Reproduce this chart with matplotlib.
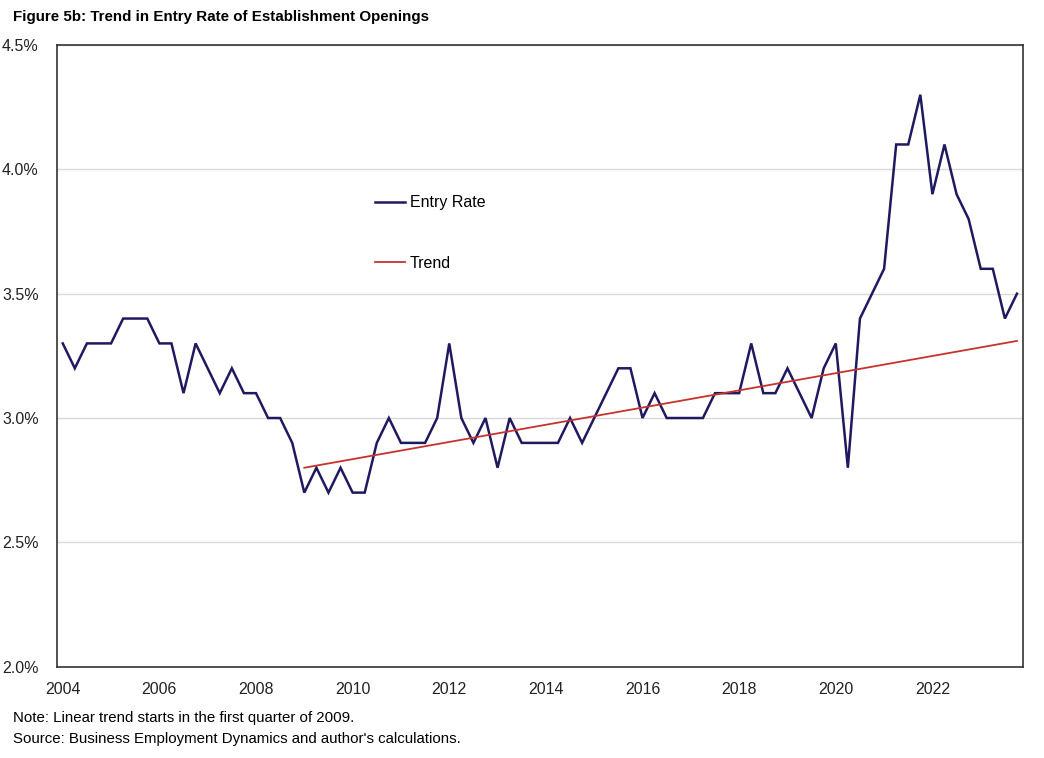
import numpy as np
import matplotlib
matplotlib.use('Agg')
import matplotlib.pyplot as plt
from matplotlib.ticker import FuncFormatter

# ============== data: quarterly entry rate, 2004Q1 - 2023Q4 (%) ==============
entry_rate = [
    3.3, 3.2, 3.3, 3.3,   # 2004
    3.3, 3.4, 3.4, 3.4,   # 2005
    3.3, 3.3, 3.1, 3.3,   # 2006
    3.2, 3.1, 3.2, 3.1,   # 2007
    3.1, 3.0, 3.0, 2.9,   # 2008
    2.7, 2.8, 2.7, 2.8,   # 2009
    2.7, 2.7, 2.9, 3.0,   # 2010
    2.9, 2.9, 2.9, 3.0,   # 2011
    3.3, 3.0, 2.9, 3.0,   # 2012
    2.8, 3.0, 2.9, 2.9,   # 2013
    2.9, 2.9, 3.0, 2.9,   # 2014
    3.0, 3.1, 3.2, 3.2,   # 2015
    3.0, 3.1, 3.0, 3.0,   # 2016
    3.0, 3.0, 3.1, 3.1,   # 2017
    3.1, 3.3, 3.1, 3.1,   # 2018
    3.2, 3.1, 3.0, 3.2,   # 2019
    3.3, 2.8, 3.4, 3.5,   # 2020
    3.6, 4.1, 4.1, 4.3,   # 2021
    3.9, 4.1, 3.9, 3.8,   # 2022
    3.6, 3.6, 3.4, 3.5,   # 2023
]
trend_start_q = 20          # 2009Q1
trend_values = [2.80, 3.31]  # trend at 2009Q1 and 2023Q4
year_labels = ['2004', '2006', '2008', '2010', '2012', '2014',
               '2016', '2018', '2020', '2022']

navy = '#1f1a60'
red = '#c8322c'
font = ['Liberation Sans', 'DejaVu Sans']

fig = plt.figure(figsize=(10.44, 7.58), dpi=100)
ax = fig.add_axes([56.7 / 1044, 1 - 666.7 / 758, 966.3 / 1044, 621.7 / 758])

x = np.arange(len(entry_rate))
ax.plot(x, entry_rate, color=navy, lw=1.8, label='Entry Rate', solid_joinstyle='miter')
ax.plot([trend_start_q, len(entry_rate) - 1], trend_values, color=red, lw=1.3, label='Trend')

ax.set_xlim(-0.5, len(entry_rate) - 0.5)
ax.set_ylim(2.0, 4.5)
ax.set_yticks([2.0, 2.5, 3.0, 3.5, 4.0, 4.5])
ax.yaxis.set_major_formatter(FuncFormatter(lambda v, p: f'{v:.1f}%'))
ax.set_xticks(np.arange(0, len(entry_rate), 8))
ax.set_xticklabels(year_labels)

ax.grid(True, axis='y', color='#d9d9d9', lw=1.0)
ax.set_axisbelow(True)
ax.tick_params(length=0, labelsize=11.5, colors='#222222')
ax.tick_params(axis='y', pad=13)
ax.tick_params(axis='x', pad=11)
for lbl in ax.get_xticklabels() + ax.get_yticklabels():
    lbl.set_family(font)
for sp in ax.spines.values():
    sp.set_color('#333333')
    sp.set_linewidth(1.2)

leg = ax.legend(loc='upper left', bbox_to_anchor=(0.329, 0.758), frameon=False,
                borderpad=0, borderaxespad=0, handlelength=1.9, handletextpad=0.3,
                labelspacing=2.85, prop={'family': font, 'size': 11.5})

fig.text(13 / 1044, 1 - 17 / 758, 'Figure 5b: Trend in Entry Rate of Establishment Openings',
         family=font, fontweight='bold', fontsize=10.9, ha='left', va='center')
fig.text(13 / 1044, 1 - 718 / 758, 'Note: Linear trend starts in the first quarter of 2009.',
         family=font, fontsize=10.8, ha='left', va='center')
fig.text(13 / 1044, 1 - 739 / 758, "Source: Business Employment Dynamics and author's calculations.",
         family=font, fontsize=10.8, ha='left', va='center')

fig.savefig('out.png', dpi=100)
